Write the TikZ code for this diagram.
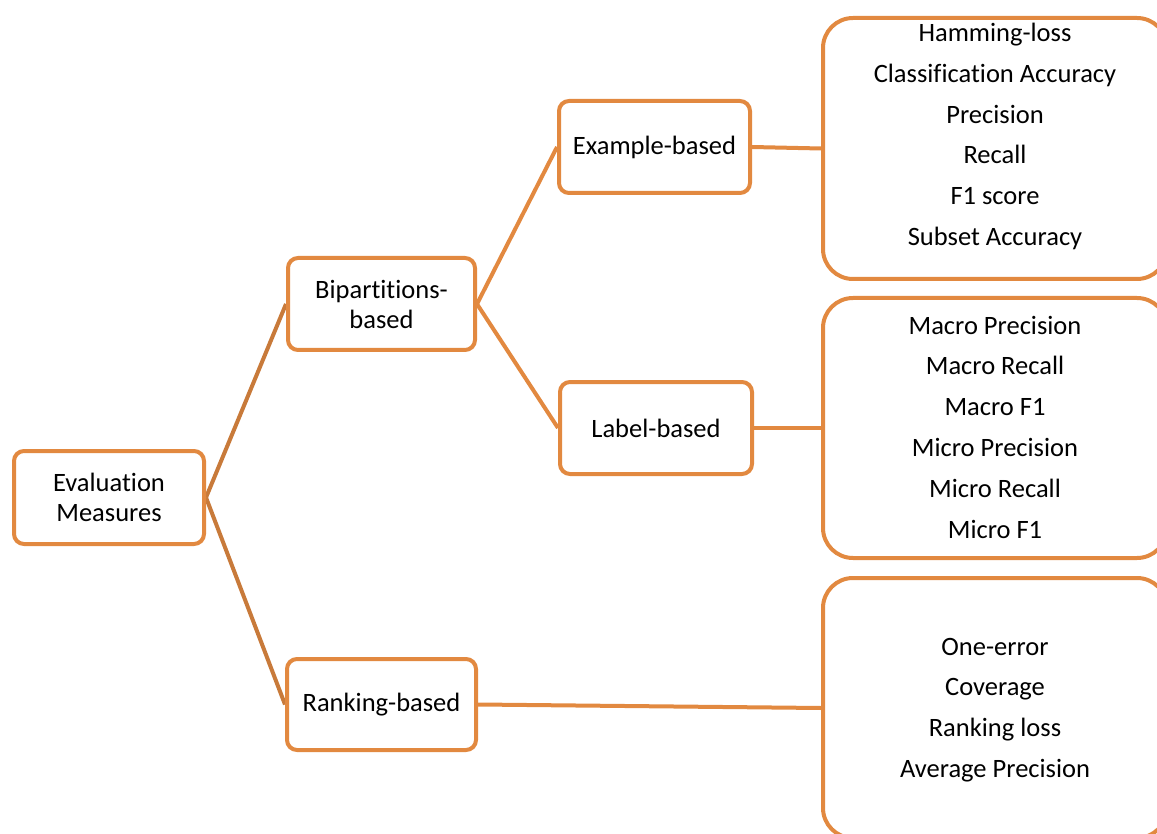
\documentclass[tikz,border=0pt]{standalone}
\usepackage{fontspec}
\setmainfont{Carlito}[Ligatures=NoCommon]
\usetikzlibrary{backgrounds}
\definecolor{orng}{RGB}{226,137,64}
\definecolor{dorng}{RGB}{200,122,58}
\begin{document}
\begin{tikzpicture}[x=1pt,y=-1pt,
  box/.style={draw=orng, line width=4pt, rounded corners=10pt, fill=white, align=center,
    font=\fontsize{26.5}{30}\selectfont, inner sep=0pt},
  big/.style={draw=orng, line width=4pt, rounded corners=30pt, fill=white,
    minimum width=344pt, inner sep=0pt},
  items/.style={align=center, font=\fontsize{26.5}{40.8}\selectfont, inner sep=0pt},
  conn/.style={draw=orng, line width=4pt},
  dconn/.style={draw=dorng, line width=4pt},
]
\useasboundingbox (0,0) rectangle (1157,834);
\clip (0,0) rectangle (1157,834);

\node[box, minimum width=190pt, minimum height=93pt] (em) at (109,497.5) {Evaluation\\Measures};
\node[box, minimum width=187pt, minimum height=92pt] (bip) at (381.5,304) {Bipartitions-\\based};
\node[box, minimum width=191pt, minimum height=92pt] (ex) at (654.5,147) {\raisebox{-2pt}{Example-based}};
\node[box, minimum width=192pt, minimum height=92pt] (lab) at (656,428) {Label-based};
\node[box, minimum width=189pt, minimum height=91pt] (rank) at (381.5,704.5) {\raisebox{-1pt}{Ranking-based}};

\node[big, minimum height=261pt] (b1) at (995,148.5) {};
\node[big, minimum height=260pt] (b2) at (995,428) {};
\node[big, minimum height=260pt] (b3) at (995,708) {};

\node[items] (t1) at (995,136.5) {Hamming-loss\\Classification Accuracy\\Precision\\Recall\\F1 score\\Subset Accuracy};
\node[items] (t2) at (995,427) {Macro Precision\\Macro Recall\\Macro F1\\Micro Precision\\Micro Recall\\Micro F1};
\node[items] (t3) at (995,710) {One-error\\Coverage\\Ranking loss\\Average Precision};

\begin{scope}[on background layer]
\draw[dconn] (em.east) -- (bip.west);
\draw[dconn] (em.east) -- (rank.west);
\draw[conn] (bip.east) -- (ex.west);
\draw[conn] (bip.east) -- (lab.west);
\draw[conn] (ex.east) -- (b1.west);
\draw[conn] (lab.east) -- (b2.west);
\draw[conn] (rank.east) -- (b3.west);
\end{scope}
\end{tikzpicture}
\end{document}
